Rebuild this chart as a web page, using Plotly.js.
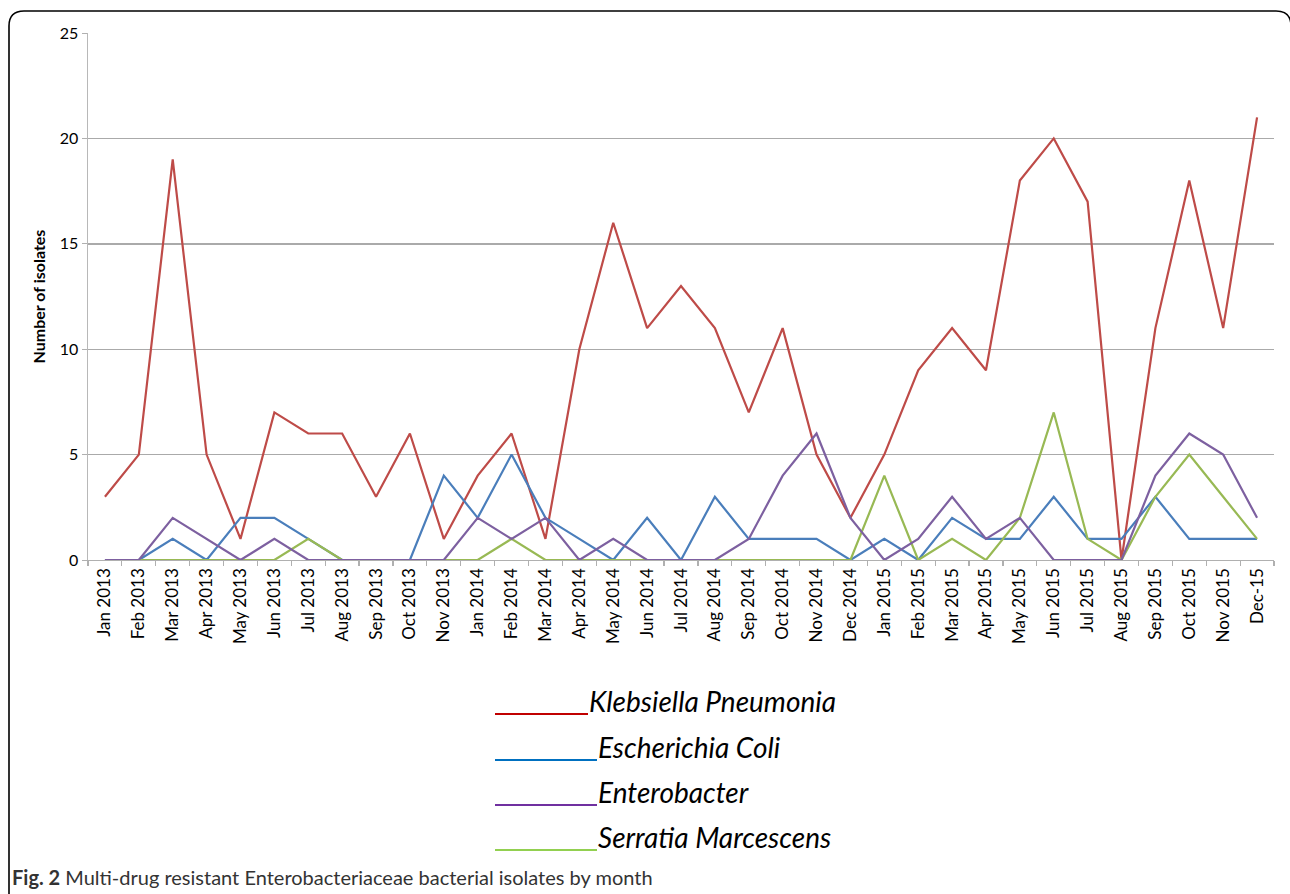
<!DOCTYPE html>
<html>
<head>
<meta charset="utf-8">
<script src="https://cdn.plot.ly/plotly-3.0.1.min.js"></script>
<style>
  html, body { margin: 0; padding: 0; background: #ffffff; }
  #chart { width: 1290px; height: 894px; }
</style>
</head>
<body>
<div id="chart"></div>
<script>
// ---------- DATA ----------
const months = ["Jan 2013","Feb 2013","Mar 2013","Apr 2013","May 2013","Jun 2013","Jul 2013","Aug 2013","Sep 2013","Oct 2013","Nov 2013",
  "Jan 2014","Feb 2014","Mar 2014","Apr 2014","May 2014","Jun 2014","Jul 2014","Aug 2014","Sep 2014","Oct 2014","Nov 2014","Dec 2014",
  "Jan 2015","Feb 2015","Mar 2015","Apr 2015","May 2015","Jun 2015","Jul 2015","Aug 2015","Sep 2015","Oct 2015","Nov 2015","Dec-15"];

const klebsiella = [3,5,19,5,1,7,6,6,3,6,1, 4,6,1,10,16,11,13,11,7,11,5,2, 5,9,11,9,18,20,17,0,11,18,11,21];
const ecoli      = [0,0,1,0,2,2,1,0,0,0,4, 2,5,2,1,0,2,0,3,1,1,1,0, 1,0,2,1,1,3,1,1,3,1,1,1];
const enterobacter = [0,0,2,1,0,1,0,0,0,0,0, 2,1,2,0,1,0,0,0,1,4,6,2, 0,1,3,1,2,0,0,0,4,6,5,2];
const serratia   = [0,0,0,0,0,0,1,0,0,0,0, 0,1,0,0,0,0,0,0,0,0,0,0, 4,0,1,0,2,7,1,0,3,5,3,1];

const seriesNames = ["Klebsiella Pneumonia","Escherichia Coli","Enterobacter","Serratia Marcescens"];
const yTitle = "Number of isolates";
const captionBold = "Fig. 2";
const captionText = "Multi-drug resistant Enterobacteriaceae bacterial isolates by month";

// ---------- STYLE ----------
const lineColors   = ["#BE4B48","#4A7EBB","#7D60A0","#98B954"];
const legendColors = ["#C00000","#0070C0","#7030A0","#92D050"];

const W = 1290, H = 894;
const M = {l: 88, r: 16, t: 33, b: 334};
const PW = W - M.l - M.r, PH = H - M.t - M.b;
const px = x => (x - M.l) / PW;          // pixel -> paper x
const py = y => (H - M.b - y) / PH;      // pixel -> paper y

const values = [klebsiella, ecoli, enterobacter, serratia];
// drawing order: Klebsiella, E. coli, Serratia, Enterobacter (purple on top)
const drawOrder = [0, 1, 3, 2];
const traces = drawOrder.map(i => ({
  type: "scatter",
  mode: "lines",
  name: seriesNames[i],
  x: months,
  y: values[i],
  line: {color: lineColors[i], width: 2.2},
  hoverinfo: "x+y+name"
}));

// legend (custom, long lines with text at the line's end)
const legendRows = [
  {x0: 495, x1: 588, y: 714},
  {x0: 495, x1: 597, y: 760},
  {x0: 495, x1: 597, y: 805},
  {x0: 495, x1: 597, y: 850}
];
const shapes = [];
const annotations = [];
legendRows.forEach((r, i) => {
  shapes.push({type: "line", xref: "paper", yref: "paper",
    x0: px(r.x0), x1: px(r.x1), y0: py(r.y), y1: py(r.y),
    line: {color: legendColors[i], width: 2}});
  annotations.push({xref: "paper", yref: "paper", x: px(r.x1 - 1), y: py(r.y + 6),
    xanchor: "left", yanchor: "bottom", showarrow: false,
    text: "<i>" + seriesNames[i] + "</i>",
    font: {family: "Lato, 'Open Sans', sans-serif", size: 28, color: "#000000"}});
});

// caption
annotations.push({xref: "paper", yref: "paper", x: px(10), y: py(877),
  xanchor: "left", yanchor: "middle", showarrow: false,
  text: "<b>" + captionBold + "</b> " + captionText,
  font: {family: "Lato, 'Open Sans', sans-serif", size: 20, color: "#333333"}});

// outer rounded frame
const fx0 = 9, fy0 = 11, fx1 = 1291, fy1 = 900, rad = 15;
const framePath = [
  "M", px(fx0), py(fy1),
  "L", px(fx0), py(fy0 + rad),
  "Q", px(fx0), py(fy0), px(fx0 + rad), py(fy0),
  "L", px(fx1 - rad), py(fy0),
  "Q", px(fx1), py(fy0), px(fx1), py(fy0 + rad),
  "L", px(fx1), py(fy1)
].join(" ");
shapes.push({type: "path", xref: "paper", yref: "paper", path: framePath,
  line: {color: "#000000", width: 1.6}});

const layout = {
  width: W, height: H,
  margin: M,
  paper_bgcolor: "#ffffff",
  plot_bgcolor: "#ffffff",
  showlegend: false,
  font: {family: "Lato, 'Open Sans', sans-serif", color: "#000000"},
  xaxis: {
    type: "category",
    range: [-0.5, months.length - 0.5],
    tickangle: -90,
    tickfont: {size: 17, color: "#000000"},
    showgrid: false,
    showline: true, linecolor: "#b0b0b0", linewidth: 1.4,
    ticks: "outside", tickson: "boundaries", ticklen: 5, tickcolor: "#b0b0b0", tickwidth: 1.2,
    zeroline: false,
    fixedrange: true
  },
  yaxis: {
    range: [0, 25],
    tick0: 0, dtick: 5,
    tickfont: {size: 16, color: "#000000"},
    showgrid: true, gridcolor: "#aaaaaa", gridwidth: 1.4,
    showline: true, linecolor: "#b8b8b8", linewidth: 1.4,
    ticks: "outside", ticklen: 5, tickcolor: "#b0b0b0",
    zeroline: false,
    title: {text: yTitle, font: {size: 16, color: "#000000", weight: "bold"}, standoff: 10},
    fixedrange: true
  },
  shapes: shapes,
  annotations: annotations
};

Plotly.newPlot("chart", traces, layout, {displayModeBar: false, staticPlot: true});
</script>
</body>
</html>
